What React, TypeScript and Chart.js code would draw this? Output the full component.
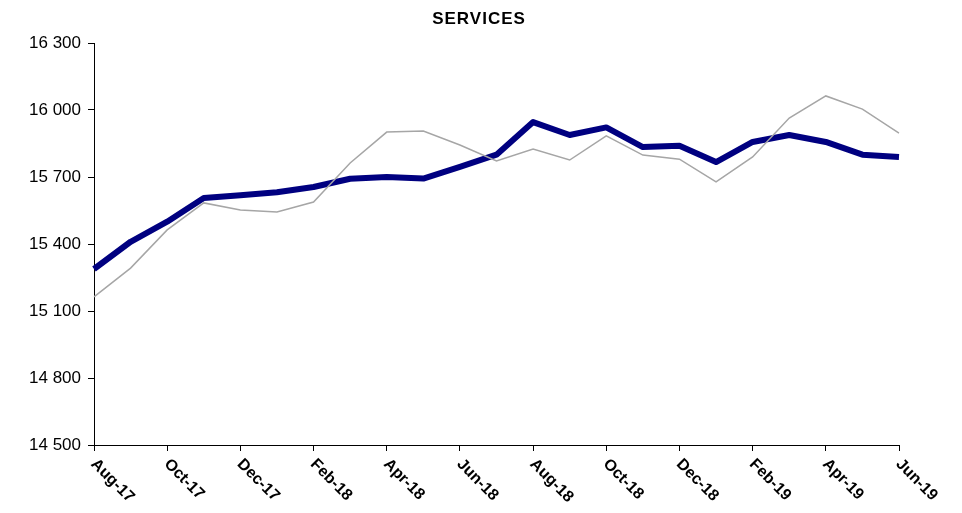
import React, { useEffect, useRef } from "react";
import { Chart, registerables } from "chart.js";

Chart.register(...registerables);

const months = [
  "Aug-17", "Sep-17", "Oct-17", "Nov-17", "Dec-17", "Jan-18", "Feb-18", "Mar-18",
  "Apr-18", "May-18", "Jun-18", "Jul-18", "Aug-18", "Sep-18", "Oct-18", "Nov-18",
  "Dec-18", "Jan-19", "Feb-19", "Mar-19", "Apr-19", "May-19", "Jun-19",
];

const trendValues = [
  15288, 15410, 15500, 15606, 15618, 15632, 15655, 15692,
  15700, 15693, 15745, 15800, 15946, 15888, 15922, 15834,
  15840, 15767, 15857, 15888, 15857, 15800, 15790,
];

const rawValues = [
  15163, 15292, 15463, 15584, 15552, 15543, 15588, 15763,
  15901, 15906, 15843, 15772, 15825, 15776, 15884, 15798,
  15780, 15678, 15790, 15964, 16063, 16004, 15897,
];

const yTicks = [14500, 14800, 15100, 15400, 15700, 16000, 16300];

const titleText = "SERVICES";

export default function App() {
  const canvasRef = useRef<HTMLCanvasElement | null>(null);

  useEffect(() => {
    const canvas = canvasRef.current;
    if (!canvas) return;

    const customDraw = {
      id: "customDraw",
      afterDraw(chart: any) {
        const ctx = chart.ctx;
        const xScale = chart.scales.x;
        const area = chart.chartArea;
        ctx.save();
        // title
        ctx.fillStyle = "#000";
        ctx.font = "bold 17px 'Liberation Sans', Arial, sans-serif";
        ctx.textAlign = "center";
        ctx.textBaseline = "middle";
        try { (ctx as any).letterSpacing = "1px"; } catch (e) {}
        ctx.fillText(titleText, 471, 11);
        try { (ctx as any).letterSpacing = "0px"; } catch (e) {}
        // x labels
        ctx.font = "bold 16px 'Liberation Sans', Arial, sans-serif";
        ctx.textAlign = "left";
        ctx.textBaseline = "top";
        months.forEach((m, i) => {
          if (i % 2 !== 0) return;
          const x = xScale.getPixelForValue(i);
          ctx.save();
          ctx.translate(x + 5, area.bottom + 11);
          ctx.rotate(Math.PI / 4);
          ctx.fillText(m, 0, 0);
          ctx.restore();
        });
        ctx.restore();
      },
    };

    const chart = new Chart(canvas, {
      type: "line",
      data: {
        labels: months,
        datasets: [
          {
            label: "Original",
            data: rawValues,
            borderColor: "#a6a6a6",
            borderWidth: 1.5,
            pointRadius: 0,
            tension: 0,
            fill: false,
          },
          {
            label: "Trend",
            data: trendValues,
            borderColor: "#000080",
            borderWidth: 6,
            pointRadius: 0,
            tension: 0,
            fill: false,
            borderJoinStyle: "round",
          },
        ],
      },
      options: {
        animation: false,
        responsive: true,
        maintainAspectRatio: false,
        layout: { padding: { top: 35, right: 55, left: 0, bottom: 0 } },
        plugins: {
          legend: { display: false },
          title: { display: false },
          tooltip: { enabled: false },
        },
        scales: {
          x: {
            type: "category",
            offset: false,
            afterFit(scale: any) {
              scale.height = 60;
            },
            grid: {
              display: true,
              drawOnChartArea: false,
              drawTicks: true,
              tickLength: 6,
              tickColor: (c: any) => (c.index % 2 === 0 ? "#000" : "rgba(0,0,0,0)"),
              tickWidth: 1,
            },
            border: { display: true, color: "#000", width: 1 },
            ticks: { display: false, autoSkip: false },
          },
          y: {
            min: 14500,
            max: 16300,
            afterFit(scale: any) {
              scale.width = 86;
            },
            afterBuildTicks(scale: any) {
              scale.ticks = yTicks.map((v) => ({ value: v }));
            },
            grid: {
              display: true,
              drawOnChartArea: false,
              drawTicks: true,
              tickLength: 6,
              tickColor: "#000",
              tickWidth: 1,
            },
            border: { display: true, color: "#000", width: 1 },
            ticks: {
              padding: 7,
              color: "#000",
              font: { family: "'Liberation Sans', Arial, sans-serif", size: 17 },
              callback: (v: any) => {
                const n = Number(v);
                const s = String(Math.round(n));
                return s.length > 3 ? s.slice(0, s.length - 3) + " " + s.slice(-3) : s;
              },
            },
          },
        },
      },
      plugins: [customDraw],
    });

    return () => chart.destroy();
  }, []);

  return (
    <div style={{ position: "relative", width: "946px", height: "497px" }}>
      <canvas ref={canvasRef} />
    </div>
  );
}
